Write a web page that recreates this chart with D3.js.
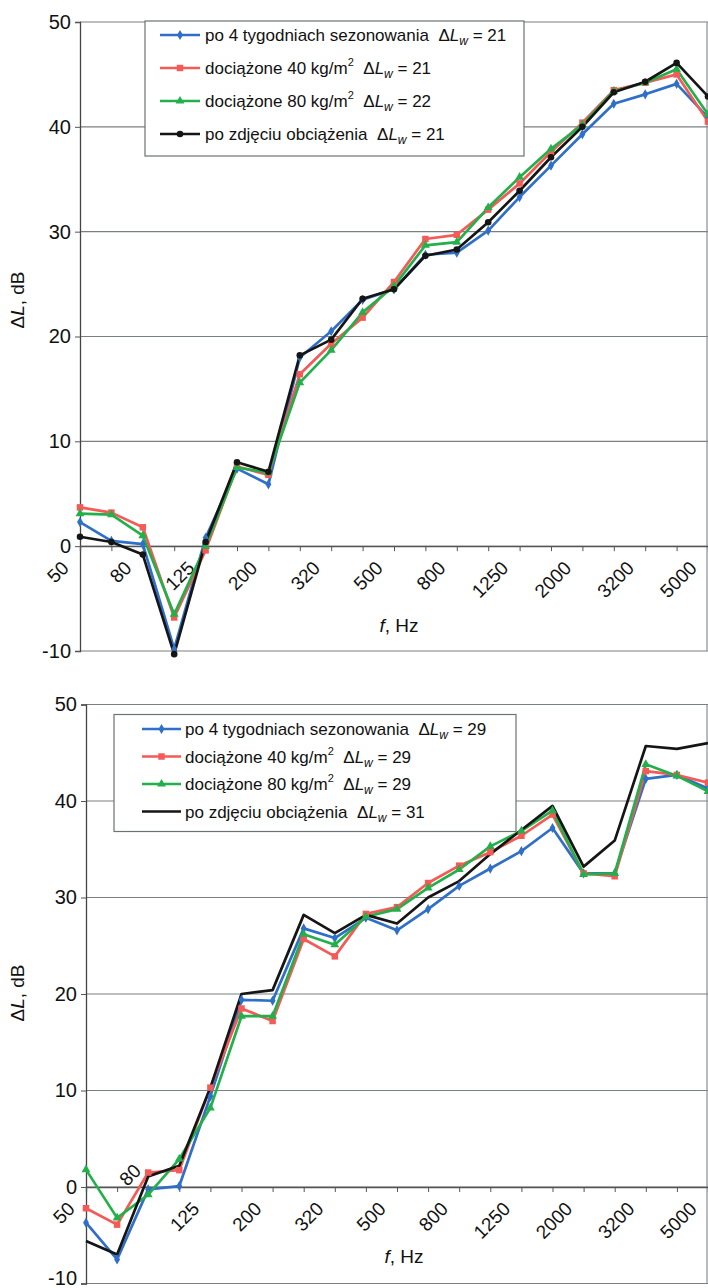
<!DOCTYPE html>
<html><head><meta charset="utf-8">
<script src="https://cdn.jsdelivr.net/npm/d3@7"></script>
<style>
html,body{margin:0;padding:0;background:#fff;}
svg{display:block;font-family:"Liberation Sans",Arial,sans-serif;}
</style></head>
<body>
<svg id="chart" width="708" height="1288"></svg>
<script>
// ---------- data ----------
const categories = ["50","63","80","100","125","160","200","250","315","400","500","630","800","1000","1250","1600","2000","2500","3150","4000","5000"];
const tickLabels = ["50","80","125","200","320","500","800","1250","2000","3200","5000"];
const yTicks = [-10, 0, 10, 20, 30, 40, 50];

const seriesNames = ["po 4 tygodniach sezonowania", "dociążone 40 kg/m", "dociążone 80 kg/m", "po zdjęciu obciążenia"];
const seriesSup = ["", "2", "2", ""];
const ratingsTop = [21, 21, 22, 21];
const ratingsBottom = [29, 29, 29, 31];

const blueTop  = [2.3, 0.5, 0.2, -9.8, 0.8, 7.4, 5.9, 18.0, 20.5, 23.5, 24.5, 27.8, 28.0, 30.1, 33.3, 36.3, 39.3, 42.2, 43.1, 44.1, 40.9];
const redTop   = [3.7, 3.2, 1.8, -6.8, -0.4, 7.6, 6.8, 16.4, 19.3, 21.8, 25.2, 29.3, 29.7, 32.1, 34.6, 37.6, 40.4, 43.5, 44.2, 45.0, 40.5];
const greenTop = [3.1, 3.0, 1.0, -6.5, 0.0, 7.5, 7.0, 15.6, 18.7, 22.3, 24.8, 28.7, 29.0, 32.3, 35.2, 37.9, 40.2, 43.4, 44.2, 45.5, 41.2];
const blackTop = [0.9, 0.4, -0.8, -10.3, 0.4, 8.0, 7.1, 18.2, 19.7, 23.6, 24.5, 27.7, 28.3, 30.9, 33.9, 37.1, 40.0, 43.3, 44.3, 46.1, 42.9];

const blueBottom  = [-3.7, -7.5, -0.25, 0.1, 9.4, 19.4, 19.3, 26.8, 25.8, 27.9, 26.6, 28.8, 31.2, 33.0, 34.8, 37.2, 32.5, 32.5, 42.3, 42.7, 41.3];
const redBottom   = [-2.2, -3.9, 1.5, 1.75, 10.3, 18.5, 17.2, 25.7, 23.9, 28.3, 29.0, 31.5, 33.3, 34.7, 36.4, 38.6, 32.5, 32.2, 43.1, 42.7, 41.9];
const greenBottom = [1.8, -3.2, -0.8, 2.9, 8.2, 17.7, 17.7, 26.2, 25.1, 28.0, 28.8, 31.0, 32.9, 35.3, 36.9, 39.0, 32.4, 32.5, 43.8, 42.6, 41.0];
const blackBottom = [-5.6, -7.0, 1.1, 2.2, 10.3, 20.0, 20.4, 28.2, 26.3, 28.2, 27.3, 30.0, 31.7, 34.5, 37.0, 39.5, 33.2, 35.9, 45.7, 45.4, 46.0];

// ---------- styles ----------
const colors = ["#2f6fc8", "#f45a56", "#22b04b", "#151515"];
const symbols = [d3.symbolDiamond, d3.symbolSquare, d3.symbolTriangle, d3.symbolCircle];
const symSizes = [30, 42, 34, 34];
const FONT = '"Liberation Sans",Arial,sans-serif';

const svg = d3.select("#chart");

function drawChart(cfg) {
  const g = svg.append("g");
  const x = d3.scalePoint().domain(categories).range([cfg.left, cfg.right]).padding(0);
  const y = d3.scaleLinear().domain([-10, 50]).range([cfg.bottom, cfg.top]);

  // gridlines
  g.selectAll("line.grid").data(yTicks).join("line")
    .attr("x1", cfg.left).attr("x2", cfg.right)
    .attr("y1", d => y(d)).attr("y2", d => y(d))
    .attr("stroke", "#7a7f82").attr("stroke-width", 1.2);
  // right border
  g.append("line").attr("x1", cfg.right - 1).attr("x2", cfg.right - 1)
    .attr("y1", y(50)).attr("y2", y(-10)).attr("stroke", "#8a8f92").attr("stroke-width", 1.2);

  // y axis
  const yAxis = d3.axisLeft(y).tickValues(yTicks).tickSize(5).tickPadding(4).tickFormat(d => String(d));
  const ya = g.append("g").attr("transform", `translate(${cfg.left},0)`).call(yAxis);
  ya.select(".domain").attr("stroke", "#444").attr("stroke-width", 1.3);
  ya.selectAll(".tick line").attr("stroke", "#555");
  ya.selectAll(".tick text").attr("font-size", 20).attr("font-family", FONT).attr("fill", "#111")
    .attr("dy", d => (d === -10 ? cfg.lowLabelDy : "0.32em"));

  // x axis at zero
  const xAxis = d3.axisBottom(x).tickSize(5).tickFormat("");
  const xa = g.append("g").attr("transform", `translate(0,${y(0)})`).call(xAxis);
  xa.select(".domain").attr("stroke", "#555").attr("stroke-width", 1.3);
  xa.selectAll(".tick line").attr("stroke", "#555");

  // rotated category labels (every second category)
  const labelData = tickLabels.map((t, k) => ({ t, cat: categories[k * 2], k }));
  g.selectAll("text.xl").data(labelData).join("text")
    .attr("class", "xl")
    .attr("font-size", 19).attr("font-family", FONT).attr("fill", "#111")
    .attr("text-anchor", "end")
    .attr("transform", d => {
      const above = cfg.aboveLabels.includes(d.k);
      const px = x(d.cat) + (above ? -6 : -10);
      const py = y(0) + (above ? -15 : 23);
      return `translate(${px},${py}) rotate(-45)`;
    })
    .text(d => d.t);

  // axis titles
  const fl = g.append("text").attr("x", cfg.fx).attr("y", cfg.fy)
    .attr("font-size", 19).attr("font-family", FONT).attr("fill", "#111").attr("text-anchor", "middle");
  fl.append("tspan").attr("font-style", "italic").text("f");
  fl.append("tspan").text(", Hz");

  const yl = g.append("text").attr("transform", `translate(${cfg.yLabX},${cfg.yLabY}) rotate(-90)`)
    .attr("font-size", 19).attr("font-family", FONT).attr("fill", "#111").attr("text-anchor", "middle");
  yl.append("tspan").text("Δ");
  yl.append("tspan").attr("font-style", "italic").text("L");
  yl.append("tspan").text(", dB");

  // series
  const line = d3.line().x((d, i) => x(categories[i])).y(d => y(d));
  cfg.series.forEach((vals, s) => {
    g.append("path").datum(vals).attr("d", line)
      .attr("fill", "none").attr("stroke", colors[s]).attr("stroke-width", 2.7)
      .attr("stroke-linejoin", "round");
  });
  cfg.series.forEach((vals, s) => {
    if (!cfg.markers[s]) return;
    g.selectAll(null).data(vals).join("path")
      .attr("d", d3.symbol().type(symbols[s]).size(symSizes[s]))
      .attr("transform", (d, i) => `translate(${x(categories[i])},${y(d)})`)
      .attr("fill", colors[s]);
  });

  // legend
  const L = cfg.legend;
  const lg = g.append("g");
  lg.append("rect").attr("x", L.x).attr("y", L.y).attr("width", L.w).attr("height", L.h)
    .attr("fill", "#fff").attr("stroke", "#6d7275").attr("stroke-width", 1.2);
  seriesNames.forEach((name, s) => {
    const by = L.firstBase + s * L.step;
    const ly = by - 6;
    lg.append("line").attr("x1", L.lineX1).attr("x2", L.lineX2).attr("y1", ly).attr("y2", ly)
      .attr("stroke", colors[s]).attr("stroke-width", 2.7);
    if (cfg.markers[s]) {
      lg.append("path").attr("d", d3.symbol().type(symbols[s]).size(symSizes[s]))
        .attr("transform", `translate(${(L.lineX1 + L.lineX2) / 2},${ly})`).attr("fill", colors[s]);
    }
    const t = lg.append("text").attr("x", L.textX).attr("y", by)
      .attr("font-size", 17).attr("font-family", FONT).attr("fill", "#111");
    t.append("tspan").text(name);
    if (seriesSup[s]) t.append("tspan").attr("font-size", 11).attr("dy", -8).text(seriesSup[s]);
    t.append("tspan").attr("dy", seriesSup[s] ? 8 : 0).text("\u00a0\u00a0Δ");
    t.append("tspan").attr("font-style", "italic").text("L");
    t.append("tspan").attr("font-style", "italic").attr("font-size", 12).attr("dy", 4).text("w");
    t.append("tspan").attr("dy", -4).text(" = " + cfg.ratings[s]);
  });
}

drawChart({
  left: 80, right: 708, top: 22, bottom: 651,
  series: [blueTop, redTop, greenTop, blackTop],
  markers: [true, true, true, true],
  ratings: ratingsTop,
  aboveLabels: [],
  lowLabelDy: "0.32em",
  fx: 399, fy: 632,
  yLabX: 24, yLabY: 300,
  legend: { x: 145, y: 21, w: 379, h: 135, firstBase: 41, step: 33, lineX1: 160, lineX2: 200, textX: 205 }
});

drawChart({
  left: 86, right: 708, top: 704.5, bottom: 1283.5,
  series: [blueBottom, redBottom, greenBottom, blackBottom],
  markers: [true, true, true, false],
  ratings: ratingsBottom,
  aboveLabels: [1],
  lowLabelDy: "0.05em",
  fx: 404, fy: 1263,
  yLabX: 24, yLabY: 993,
  legend: { x: 114, y: 714.5, w: 402, h: 117, firstBase: 735, step: 27.5, lineX1: 142, lineX2: 181, textX: 185 }
});
</script>
</body></html>
